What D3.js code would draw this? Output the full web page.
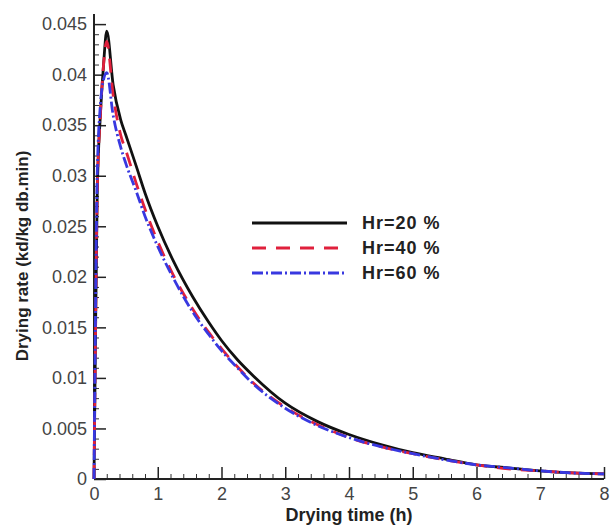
<!DOCTYPE html>
<html>
<head>
<meta charset="utf-8">
<script src="https://cdn.jsdelivr.net/npm/d3@7.9.0/dist/d3.min.js"></script>
<style>
  body { margin: 0; background: #fff; }
  svg { font-family: Arial, "Liberation Sans", sans-serif; }
  .tick text { fill: #444; font-size: 18px; }
</style>
</head>
<body>
<svg id="chart" width="614" height="529"></svg>
<script>
// drying time (h)
const times = [0, 0.02, 0.05, 0.1, 0.15, 0.2, 0.3, 0.42, 0.5, 0.66, 0.8, 1.0, 1.25, 1.55, 1.8, 2.0, 2.25, 2.5, 3.0, 3.5, 4.0, 4.5, 5.0, 5.5, 6.0, 6.5, 7.0, 7.5, 8.0];

const rateHr20 = [0, 0.012, 0.028, 0.036, 0.041, 0.0443, 0.039, 0.0355, 0.034, 0.031, 0.0283, 0.025, 0.0215, 0.018, 0.0155, 0.0137, 0.0118, 0.0102, 0.0075, 0.0057, 0.0044, 0.0034, 0.0026, 0.002, 0.0014, 0.0011, 0.0008, 0.0006, 0.0005];
const rateHr40 = [0, 0.012, 0.028, 0.036, 0.041, 0.0433, 0.038, 0.034, 0.0325, 0.0293, 0.0267, 0.0235, 0.0201, 0.0168, 0.0145, 0.0129, 0.0111, 0.0095, 0.0071, 0.0054, 0.0041, 0.0032, 0.0025, 0.0019, 0.0014, 0.001, 0.0008, 0.0006, 0.0005];
const rateHr60 = [0, 0.014, 0.03, 0.037, 0.0395, 0.0402, 0.036, 0.0328, 0.0312, 0.0285, 0.026, 0.023, 0.0198, 0.0165, 0.0143, 0.0127, 0.011, 0.0094, 0.007, 0.0053, 0.0041, 0.0032, 0.0025, 0.0019, 0.0014, 0.0011, 0.0008, 0.0006, 0.0005];

const seriesNames = ['Hr=20 %', 'Hr=40 %', 'Hr=60 %'];
const xTicks = [0, 1, 2, 3, 4, 5, 6, 7, 8];
const yTicks = [0, 0.005, 0.01, 0.015, 0.02, 0.025, 0.03, 0.035, 0.04, 0.045];

const svg = d3.select('#chart');
const plotLeft = 94, plotRight = 604, plotTop = 14, plotBottom = 479;

const x = d3.scaleLinear().domain([0, 8]).range([plotLeft, plotRight]);
const y = d3.scaleLinear().domain([0, 0.046]).range([plotBottom, plotTop]);

// minor ticks
const xMinor = d3.range(0, 40).map(i => i * 0.2).filter((v, i) => i % 5 !== 0);
const yMinor = d3.range(0, 46).map(i => i * 0.001).filter((v, i) => i % 5 !== 0);

svg.append('g')
  .attr('transform', `translate(0,${plotBottom})`)
  .call(d3.axisBottom(x).tickValues(xMinor).tickSize(-5).tickFormat(''))
  .call(g => g.select('.domain').remove())
  .selectAll('line').attr('stroke', '#333');

svg.append('g')
  .attr('transform', `translate(${plotLeft},0)`)
  .call(d3.axisLeft(y).tickValues(yMinor).tickSize(-5).tickFormat(''))
  .call(g => g.select('.domain').remove())
  .selectAll('line').attr('stroke', '#333');

const xAxis = svg.append('g')
  .attr('transform', `translate(0,${plotBottom})`)
  .call(d3.axisBottom(x).tickValues(xTicks).tickSize(-12).tickPadding(8).tickFormat(d3.format('d')));
xAxis.select('.domain').attr('d', `M${plotLeft},0H${plotRight}`).attr('stroke', '#222').attr('stroke-width', 2);
xAxis.selectAll('line').attr('stroke', '#222').attr('stroke-width', 1.5);

const yAxis = svg.append('g')
  .attr('transform', `translate(${plotLeft},0)`)
  .call(d3.axisLeft(y).tickValues(yTicks).tickSize(-12).tickPadding(7).tickFormat(d3.format('~g')));
yAxis.select('.domain').attr('d', `M0,${plotBottom}V${plotTop}`).attr('stroke', '#222').attr('stroke-width', 2);
yAxis.selectAll('line').attr('stroke', '#222').attr('stroke-width', 1.5);

// curves
const styles = [
  { color: '#111', dash: null },
  { color: '#e0203c', dash: '14,10' },
  { color: '#3838e0', dash: '11,3,2,3' }
];
const allRates = [rateHr20, rateHr40, rateHr60];

const line = d3.line()
  .x((d, i) => x(times[i]))
  .y(d => y(d))
  .curve(d3.curveMonotoneX);

allRates.forEach((rates, k) => {
  svg.append('path')
    .datum(rates)
    .attr('d', line)
    .attr('fill', 'none')
    .attr('stroke', styles[k].color)
    .attr('stroke-width', 2.8)
    .attr('stroke-dasharray', styles[k].dash);
});

// legend
const legend = svg.append('g');
seriesNames.forEach((name, k) => {
  const ly = 223 + k * 25;
  legend.append('line')
    .attr('x1', 252).attr('x2', 347).attr('y1', ly).attr('y2', ly)
    .attr('stroke', styles[k].color)
    .attr('stroke-width', 3)
    .attr('stroke-dasharray', styles[k].dash);
  legend.append('text')
    .attr('x', 362).attr('y', ly + 6)
    .attr('font-size', 18).attr('font-weight', 'bold')
    .attr('letter-spacing', 1)
    .attr('fill', '#222')
    .text(name);
});

// axis titles
svg.append('text')
  .attr('x', (plotLeft + plotRight) / 2).attr('y', 521)
  .attr('text-anchor', 'middle')
  .attr('font-size', 18).attr('font-weight', 'bold').attr('fill', '#222')
  .text('Drying time (h)');

svg.append('text')
  .attr('transform', `translate(28,256) rotate(-90)`)
  .attr('text-anchor', 'middle')
  .attr('font-size', 17).attr('font-weight', 'bold').attr('fill', '#222')
  .text('Drying rate (kd/kg db.min)');
</script>
</body>
</html>
